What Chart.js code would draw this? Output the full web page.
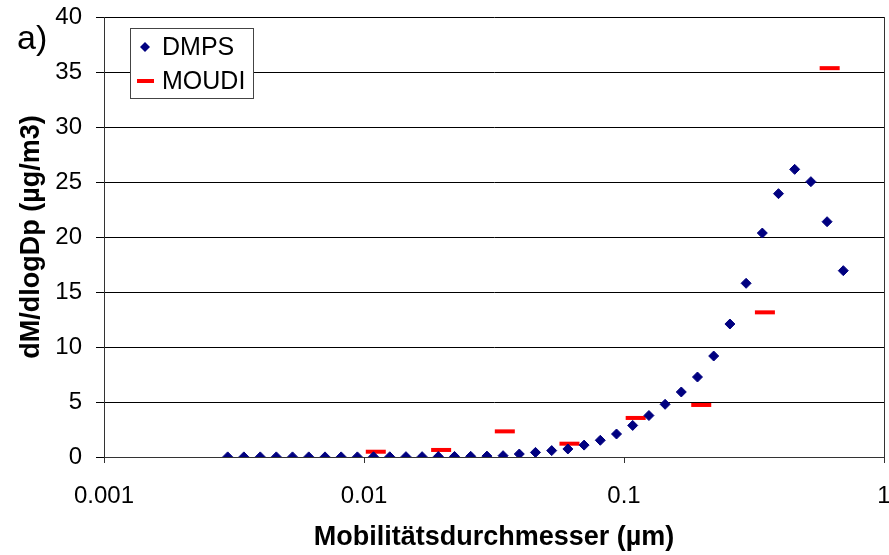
<!DOCTYPE html>
<html>
<head>
<meta charset="utf-8">
<script src="https://cdn.jsdelivr.net/npm/chart.js@4"></script>
<style>
  html, body { margin: 0; padding: 0; background: #fff; }
  #wrap { width: 889px; height: 555px; position: relative; }
</style>
</head>
<body>
<div id="wrap"><canvas id="c" width="889" height="555"></canvas></div>
<script>
// Mobility diameter (µm) of the DMPS size bins
const dmpsDiameter = [0.00299, 0.00345, 0.00399, 0.00460, 0.00531, 0.00613, 0.00708, 0.00817,
  0.00943, 0.01088, 0.01256, 0.01450, 0.01673, 0.01931, 0.02229, 0.02573, 0.02970, 0.03427,
  0.03956, 0.04566, 0.05272, 0.06084, 0.07023, 0.08106, 0.09359, 0.1080, 0.1247, 0.1439,
  0.1661, 0.1917, 0.2213, 0.2555, 0.2949, 0.3404, 0.3928, 0.4534, 0.5234, 0.6041, 0.6973];
// dM/dlogDp (µg/m3) from DMPS
const dmpsMass = [0.01, 0.01, 0.01, 0.01, 0.01, 0.01, 0.01, 0.01,
  0.01, 0.02, 0.02, 0.03, 0.03, 0.04, 0.05, 0.06, 0.08, 0.12,
  0.27, 0.42, 0.58, 0.73, 1.08, 1.52, 2.09, 2.87, 3.77, 4.79,
  5.91, 7.27, 9.18, 12.09, 15.79, 20.36, 23.94, 26.15, 25.03, 21.39, 16.94];
// MOUDI stage mid diameters (µm) and dM/dlogDp (µg/m3)
const moudiDiameter = [0.0111, 0.0198, 0.0348, 0.0617, 0.1109, 0.1982, 0.3483, 0.618];
const moudiMass = [0.48, 0.64, 2.33, 1.21, 3.55, 4.73, 13.15, 35.35];

const xTickValues = [0.001, 0.01, 0.1, 1];
const xTickLabels = ['0.001', '0.01', '0.1', '1'];
const seriesNames = ['DMPS', 'MOUDI'];
const panelLabel = 'a)';

const FONT = '"Liberation Sans", Arial, sans-serif';

const toPoints = (xs, ys) => xs.map((x, i) => ({ x: x, y: ys[i] }));

// Legend box drawn inside the plot area, plus the right frame edge and panel tag
const decorations = {
  id: 'decorations',
  afterDraw(chart) {
    const ctx = chart.ctx;
    const a = chart.chartArea;
    ctx.save();
    // right frame edge
    ctx.strokeStyle = '#333';
    ctx.lineWidth = 1;
    ctx.beginPath();
    ctx.moveTo(a.right + 0.5, a.top);
    ctx.lineTo(a.right + 0.5, a.bottom);
    ctx.stroke();

    // panel tag
    ctx.fillStyle = '#000';
    ctx.font = '34px ' + FONT;
    ctx.textAlign = 'left';
    ctx.textBaseline = 'alphabetic';
    ctx.fillText(panelLabel, 17, 49);

    // legend
    const bx = a.left + 26, by = a.top + 11, bw = 123, bh = 70;
    ctx.fillStyle = '#fff';
    ctx.fillRect(bx, by, bw, bh);
    ctx.strokeStyle = '#444';
    ctx.strokeRect(bx + 0.5, by + 0.5, bw, bh);
    const rows = [by + 19, by + 53];
    chart.data.datasets.forEach((ds, i) => {
      const cy = rows[i];
      const mx = bx + 15;
      ctx.save();
      if (ds.pointStyle === 'line') {
        ctx.strokeStyle = ds.borderColor;
        ctx.lineWidth = 4;
        ctx.beginPath();
        ctx.moveTo(mx - 8, cy);
        ctx.lineTo(mx + 9, cy);
        ctx.stroke();
      } else {
        ctx.fillStyle = ds.backgroundColor;
        ctx.beginPath();
        ctx.moveTo(mx, cy - 5);
        ctx.lineTo(mx + 5, cy);
        ctx.lineTo(mx, cy + 5);
        ctx.lineTo(mx - 5, cy);
        ctx.closePath();
        ctx.fill();
      }
      ctx.restore();
      ctx.fillStyle = '#000';
      ctx.font = '25px ' + FONT;
      ctx.textAlign = 'left';
      ctx.textBaseline = 'middle';
      ctx.fillText(ds.label, bx + 32, cy + 1);
    });
    ctx.restore();
  }
};

new Chart(document.getElementById('c'), {
  type: 'scatter',
  data: {
    datasets: [
      {
        label: seriesNames[0],
        data: toPoints(dmpsDiameter, dmpsMass),
        pointStyle: 'rectRot',
        radius: 5,
        borderWidth: 1,
        backgroundColor: '#000080',
        borderColor: '#000080'
      },
      {
        label: seriesNames[1],
        data: toPoints(moudiDiameter, moudiMass),
        pointStyle: 'line',
        radius: 10,
        borderWidth: 4,
        backgroundColor: '#ff0000',
        borderColor: '#ff0000'
      }
    ]
  },
  options: {
    responsive: false,
    animation: false,
    layout: { autoPadding: false, padding: { top: 17, right: 5, left: 0, bottom: 0 } },
    plugins: { legend: { display: false }, tooltip: { enabled: false } },
    scales: {
      x: {
        type: 'logarithmic',
        position: 'bottom',
        min: 0.001,
        max: 1,
        afterBuildTicks: (s) => { s.ticks = xTickValues.map(v => ({ value: v })); },
        afterFit: (s) => { s.height = 98; s.paddingLeft = 0; s.paddingRight = 0; },
        ticks: {
          autoSkip: false,
          maxRotation: 0,
          color: '#000',
          padding: 21,
          font: { family: FONT, size: 24, lineHeight: 1 },
          callback: (v, i) => xTickLabels[i]
        },
        grid: { drawOnChartArea: false, drawTicks: true, tickLength: 6, color: '#333' },
        border: { color: '#333', width: 1 },
        title: {
          display: true,
          text: 'Mobilitätsdurchmesser (µm)',
          color: '#000',
          font: { family: FONT, size: 27, weight: 'bold', lineHeight: 1 },
          padding: { top: 0, bottom: 4 }
        }
      },
      y: {
        min: 0,
        max: 40,
        afterFit: (s) => { s.width = 104; s.paddingTop = 0; s.paddingBottom = 0; },
        ticks: {
          stepSize: 5,
          color: '#000',
          padding: 14,
          font: { family: FONT, size: 24, lineHeight: 1 }
        },
        grid: { color: '#000', lineWidth: 1, tickLength: 8 },
        border: { color: '#333', width: 1 },
        title: {
          display: true,
          text: 'dM/dlogDp (µg/m3)',
          color: '#000',
          font: { family: FONT, size: 27, weight: 'bold', lineHeight: 1 },
          padding: { top: 18, bottom: 0 }
        }
      }
    }
  },
  plugins: [decorations]
});
</script>
</body>
</html>
